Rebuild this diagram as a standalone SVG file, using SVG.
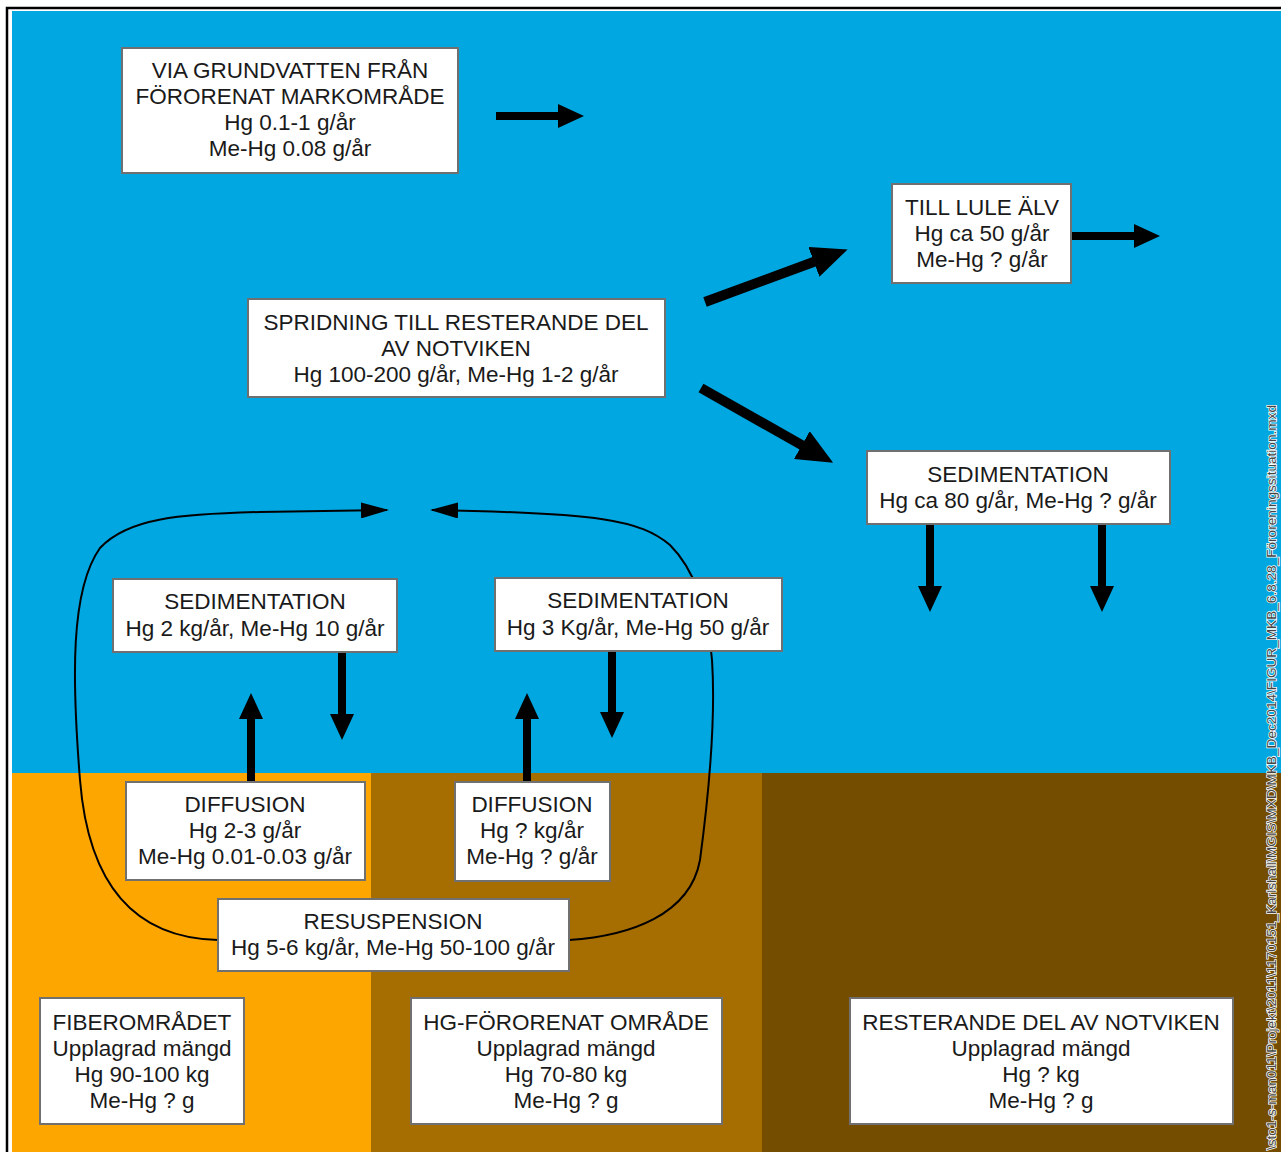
<svg xmlns="http://www.w3.org/2000/svg" width="1281" height="1152" viewBox="0 0 1281 1152">
<style>
.box{fill:#fff;stroke:#707070;stroke-width:2}
.t{font-family:"Liberation Sans",Arial,sans-serif;font-size:22.5px;fill:#1a1a1a;text-anchor:middle}
.fat{stroke:#000;stroke-width:8;fill:none}
.fat2{stroke:#000;stroke-width:10;fill:none}
.thin{stroke:#000;stroke-width:2;fill:none}
</style>
<defs>
<marker id="ah" markerUnits="userSpaceOnUse" markerWidth="26" markerHeight="24" refX="10" refY="12" orient="auto"><path d="M0,0 L26,12 L0,24 Z" fill="#000"/></marker>
<marker id="ahb" markerUnits="userSpaceOnUse" markerWidth="36" markerHeight="32" refX="14" refY="16" orient="auto"><path d="M0,0 L36,16 L0,32 Z" fill="#000"/></marker>
<marker id="aht" markerUnits="userSpaceOnUse" markerWidth="28" markerHeight="16" refX="26" refY="8" orient="auto"><path d="M0,0 L28,8 L0,16 Z" fill="#000"/></marker>
</defs>
<rect x="7" y="8" width="1290" height="1160" fill="#fff" stroke="#000" stroke-width="2.5"/>
<rect x="12" y="11" width="1269" height="762" fill="#00A7E1"/>
<rect x="12" y="773" width="359" height="379" fill="#FDA600"/>
<rect x="371" y="773" width="391" height="379" fill="#A66D00"/>
<rect x="762" y="773" width="519" height="379" fill="#754D00"/>

<g id="connectors">
<line class="fat" x1="496" y1="116" x2="568" y2="116" marker-end="url(#ah)"/>
<line class="fat" x1="1071" y1="236" x2="1144" y2="236" marker-end="url(#ah)"/>
<line class="fat2" x1="705" y1="302" x2="827" y2="257" marker-end="url(#ahb)"/>
<line class="fat2" x1="701" y1="388" x2="814" y2="452" marker-end="url(#ahb)"/>
<line class="fat" x1="930" y1="524" x2="930" y2="596" marker-end="url(#ah)"/>
<line class="fat" x1="1102" y1="524" x2="1102" y2="596" marker-end="url(#ah)"/>
<line class="fat" x1="251" y1="782" x2="251" y2="709" marker-end="url(#ah)"/>
<line class="fat" x1="342" y1="652" x2="342" y2="724" marker-end="url(#ah)"/>
<line class="fat" x1="527" y1="782" x2="527" y2="709" marker-end="url(#ah)"/>
<line class="fat" x1="612" y1="652" x2="612" y2="722" marker-end="url(#ah)"/>
<path class="thin" d="M218,940 C130,938 88,880 80,780 C72,680 70,590 100,548 C128,518 180,514 260,512 L387,510" marker-end="url(#aht)"/>
<path class="thin" d="M569,940 C630,936 690,915 700,860 C708,800 716,720 712,660 C708,610 695,570 670,545 C640,520 600,513 432,510" marker-end="url(#aht)"/>
</g>

<g id="n-grundvatten">
<rect class="box" x="122" y="48" width="336" height="125"/>
<text class="t" x="290" y="78">VIA GRUNDVATTEN FRÅN</text>
<text class="t" x="290" y="104">FÖRORENAT MARKOMRÅDE</text>
<text class="t" x="290" y="130">Hg 0.1-1 g/år</text>
<text class="t" x="290" y="156">Me-Hg 0.08 g/år</text>
</g>
<g id="n-lule">
<rect class="box" x="892" y="184" width="179" height="99"/>
<text class="t" x="982" y="215">TILL LULE ÄLV</text>
<text class="t" x="982" y="241">Hg ca 50 g/år</text>
<text class="t" x="982" y="267">Me-Hg ? g/år</text>
</g>
<g id="n-spridning">
<rect class="box" x="248" y="299" width="417" height="98"/>
<text class="t" x="456" y="330">SPRIDNING TILL RESTERANDE DEL</text>
<text class="t" x="456" y="356">AV NOTVIKEN</text>
<text class="t" x="456" y="382">Hg 100-200 g/år, Me-Hg 1-2 g/år</text>
</g>
<g id="n-sed-right">
<rect class="box" x="867" y="451" width="303" height="73"/>
<text class="t" x="1018" y="482">SEDIMENTATION</text>
<text class="t" x="1018" y="508">Hg ca 80 g/år, Me-Hg ? g/år</text>
</g>
<g id="n-sed-left">
<rect class="box" x="113" y="579" width="284" height="73"/>
<text class="t" x="255" y="609">SEDIMENTATION</text>
<text class="t" x="255" y="636">Hg 2 kg/år, Me-Hg 10 g/år</text>
</g>
<g id="n-sed-mid">
<rect class="box" x="495" y="578" width="287" height="73"/>
<text class="t" x="638" y="608">SEDIMENTATION</text>
<text class="t" x="638" y="635">Hg 3 Kg/år, Me-Hg 50 g/år</text>
</g>
<g id="n-diff-left">
<rect class="box" x="126" y="782" width="239" height="98"/>
<text class="t" x="245" y="812">DIFFUSION</text>
<text class="t" x="245" y="838">Hg 2-3 g/år</text>
<text class="t" x="245" y="864">Me-Hg 0.01-0.03 g/år</text>
</g>
<g id="n-diff-mid">
<rect class="box" x="455" y="782" width="155" height="99"/>
<text class="t" x="532" y="812">DIFFUSION</text>
<text class="t" x="532" y="838">Hg ? kg/år</text>
<text class="t" x="532" y="864">Me-Hg ? g/år</text>
</g>
<g id="n-resusp">
<rect class="box" x="218" y="899" width="351" height="72"/>
<text class="t" x="393" y="929">RESUSPENSION</text>
<text class="t" x="393" y="955">Hg 5-6 kg/år, Me-Hg 50-100 g/år</text>
</g>
<g id="n-fiber">
<rect class="box" x="40" y="998" width="204" height="126"/>
<text class="t" x="142" y="1030">FIBEROMRÅDET</text>
<text class="t" x="142" y="1056">Upplagrad mängd</text>
<text class="t" x="142" y="1082">Hg 90-100 kg</text>
<text class="t" x="142" y="1108">Me-Hg ? g</text>
</g>
<g id="n-hg">
<rect class="box" x="411" y="998" width="311" height="126"/>
<text class="t" x="566" y="1030">HG-FÖRORENAT OMRÅDE</text>
<text class="t" x="566" y="1056">Upplagrad mängd</text>
<text class="t" x="566" y="1082">Hg 70-80 kg</text>
<text class="t" x="566" y="1108">Me-Hg ? g</text>
</g>
<g id="n-rest">
<rect class="box" x="850" y="998" width="383" height="126"/>
<text class="t" x="1041" y="1030">RESTERANDE DEL AV NOTVIKEN</text>
<text class="t" x="1041" y="1056">Upplagrad mängd</text>
<text class="t" x="1041" y="1082">Hg ? kg</text>
<text class="t" x="1041" y="1108">Me-Hg ? g</text>
</g>
<text transform="translate(1276,1150) rotate(-90)" x="0" y="0" textLength="745" lengthAdjust="spacingAndGlyphs" font-family="Liberation Sans, Arial, sans-serif" font-size="13" fill="#444" stroke="#fff" stroke-width="1.5" paint-order="stroke">\sto1-s-man011\Projekt\2011\1170151_Karlshall\MGIS\MXD\MKB_Dec2014\FIGUR_MKB_6.8.28_Föroreningssituation.mxd</text>
</svg>
